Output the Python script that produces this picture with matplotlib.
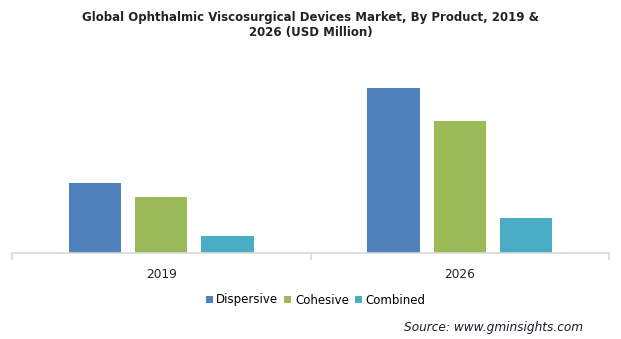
import matplotlib
matplotlib.use("Agg")
import matplotlib.pyplot as plt
import numpy as np

years = ["2019", "2026"]
products = ["Dispersive", "Cohesive", "Combined"]
dispersive = [70, 165]
cohesive = [56, 132]
combined = [17, 35]
colors = ["#4F81BD", "#9BBB59", "#4BACC6"]

fig = plt.figure(figsize=(6.21, 3.39), dpi=100)
ax = fig.add_axes([12 / 621, 1 - 253 / 339, 597 / 621, 193 / 339])

x = np.arange(len(years))
width = 0.175
step = 0.222
for i, (name, vals) in enumerate(zip(products, [dispersive, cohesive, combined])):
    ax.bar(x + (i - 1) * step, vals, width, color=colors[i], label=name)

ax.set_xlim(-0.5, 1.5)
ax.set_ylim(0, 193)
ax.set_yticks([])
for s in ["top", "right", "left"]:
    ax.spines[s].set_visible(False)
ax.spines["bottom"].set_color("#d9d9d9")
ax.spines["bottom"].set_linewidth(1.2)
ax.set_xticks(x)
ax.set_xticklabels(years, fontsize=8.7, color="#222222")
ax.tick_params(axis="x", which="major", length=0, pad=11)
ax.set_xticks([-0.5, 0.5, 1.5], minor=True)
ax.tick_params(axis="x", which="minor", length=5, color="#d9d9d9", width=1.2)

fig.text(0.5, 1 - 25 / 339,
         "Global Ophthalmic Viscosurgical Devices Market, By Product, 2019 &\n2026 (USD Million)",
         ha="center", va="center", fontsize=8.5, fontweight="bold", color="#222222",
         linespacing=1.25)

fig.legend(loc="center", bbox_to_anchor=(0.508, 1 - 300 / 339), ncol=3, frameon=False,
           fontsize=8.5, handlelength=0.6, handleheight=0.6, handletextpad=0.3,
           columnspacing=0.5)

fig.text(583 / 621, 1 - 327 / 339, "Source: www.gminsights.com", ha="right", va="center",
         fontsize=8.7, style="italic", color="#1a1a2e")

fig.savefig("out.png", dpi=100)
